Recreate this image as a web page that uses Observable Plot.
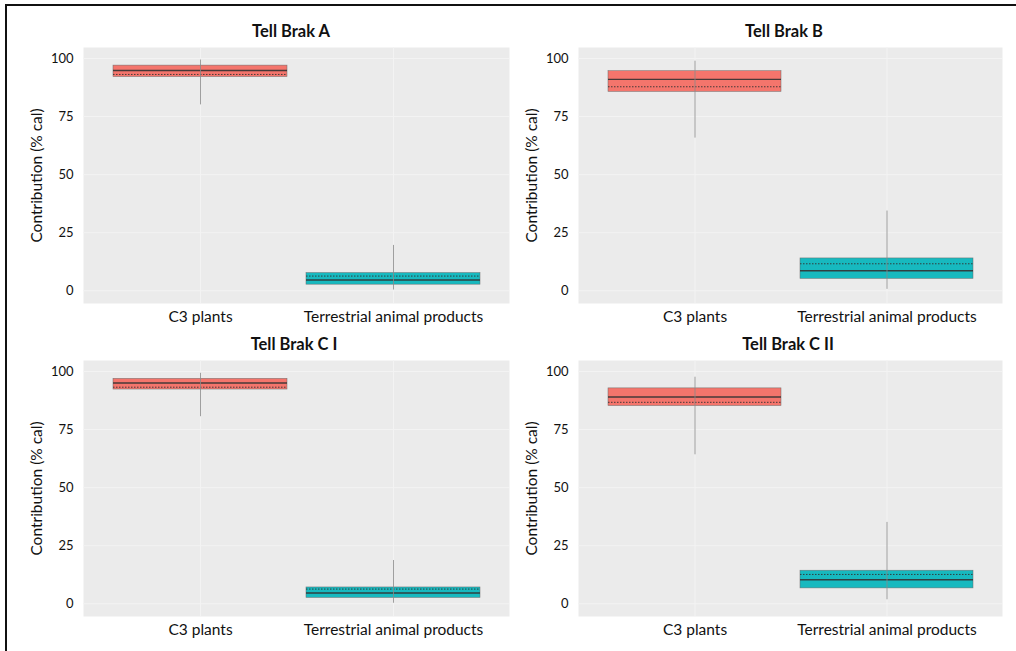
<!DOCTYPE html>
<html>
<head>
<meta charset="utf-8">
<script src="https://cdn.jsdelivr.net/npm/d3@7"></script>
<script src="https://cdn.jsdelivr.net/npm/@observablehq/plot@0.6"></script>
<style>
  html, body { margin: 0; padding: 0; background: #fff; }
  body { width: 1016px; height: 651px; position: relative; overflow: hidden; font-family: Lato, "Open Sans", sans-serif; }
  .frame { position: absolute; left: 5px; top: 4px; width: 1100px; height: 700px; border-top: 2.5px solid #111; border-left: 2.5px solid #111; }
  .panel { position: absolute; }
  .title { position: absolute; font-weight: bold; font-size: 16.5px; color: #111; white-space: nowrap; transform: translate(-50%, -50%); }
</style>
</head>
<body>
<div class="frame"></div>
<div id="root"></div>
<script>
// ---- data ----
const panels = ["Tell Brak A", "Tell Brak B", "Tell Brak C I", "Tell Brak C II"];
const categories = ["C3 plants", "Terrestrial animal products"];
// values listed panel by panel: [C3 plants, Terrestrial animal products]
const whiskerLow  = [80.0, 0.3,  65.7, 0.6,  80.5, 0.2,  64.1, 1.7];
const q1          = [92.0, 2.6,  85.6, 5.1,  92.2, 2.5,  85.1, 6.6];
const median      = [94.8, 4.6,  91.0, 8.6,  95.0, 4.6,  89.0, 10.3];
const mean        = [93.1, 6.3,  87.8, 11.6, 93.2, 6.3,  86.7, 12.6];
const q3          = [96.9, 7.6,  94.5, 13.9, 96.8, 7.0,  92.7, 14.2];
const whiskerHigh = [99.3, 19.5, 98.8, 34.3, 99.2, 18.6, 97.5, 35.0];
const yTicks = [0, 25, 50, 75, 100];
const fillColors = ["#f4756c", "#17b9bf"];
const yLabel = "Contribution (% cal)";

// panel placement
const layout = [
  {left: 10,  top: 40,  titleX: 291, titleY: 31},
  {left: 505, top: 40,  titleX: 784, titleY: 31},
  {left: 10,  top: 353, titleX: 294, titleY: 344},
  {left: 505, top: 353, titleX: 788, titleY: 344}
];

const root = document.getElementById("root");
panels.forEach((name, p) => {
  const rows = categories.map((c, k) => {
    const i = p * categories.length + k;
    return {cat: c, lo: whiskerLow[i], q1: q1[i], med: median[i], mean: mean[i], q3: q3[i], hi: whiskerHigh[i], fill: fillColors[k]};
  });
  const L = layout[p];
  const chart = Plot.plot({
    width: 500,
    height: 290,
    marginLeft: 73,
    marginRight: p % 2 === 0 ? 1 : 3,
    marginTop: 7,
    marginBottom: 27,
    style: {fontFamily: "Lato, 'Open Sans', sans-serif", background: "transparent", color: "#111"},
    x: {type: "band", domain: categories, paddingInner: 0.1, paddingOuter: 0.15},
    y: {domain: [-5.5, 104.7]},
    marks: [
      Plot.frame({fill: "#ebebeb", stroke: null}),
      Plot.gridY(yTicks, {stroke: "#f3f3f3", strokeOpacity: 1, strokeWidth: 1}),
      Plot.gridX(categories, {stroke: "#f3f3f3", strokeOpacity: 1, strokeWidth: 1}),
      Plot.barY(rows, {x: "cat", y1: "q1", y2: "q3", fill: "fill", stroke: "#666", strokeWidth: 0.6, strokeOpacity: 0.8}),
      Plot.tickY(rows, {x: "cat", y: "med", stroke: "#333", strokeWidth: 1.4, strokeOpacity: 0.9}),
      Plot.tickY(rows, {x: "cat", y: "mean", stroke: "#333", strokeWidth: 1, strokeDasharray: "1.5,1.5", strokeOpacity: 0.9}),
      Plot.ruleX(rows, {x: "cat", y1: "lo", y2: "hi", stroke: "#8a8a8a", strokeWidth: 1, strokeOpacity: 0.8}),
      Plot.axisY(yTicks, {tickSize: 0, tickPadding: 10, fontSize: 13, label: null, tickFormat: d => String(d)}),
      Plot.axisX({tickSize: 0, tickPadding: 7, fontSize: 15.5, label: null}),
      Plot.text([yLabel], {frameAnchor: "left", dx: -46, rotate: -90, fontSize: 15.5, fill: "#111", textAnchor: "middle"})
    ]
  });
  const div = document.createElement("div");
  div.className = "panel";
  div.style.left = L.left + "px";
  div.style.top = L.top + "px";
  div.appendChild(chart);
  root.appendChild(div);
  const t = document.createElement("div");
  t.className = "title";
  t.style.left = L.titleX + "px";
  t.style.top = L.titleY + "px";
  t.textContent = name;
  root.appendChild(t);
});
</script>
</body>
</html>
